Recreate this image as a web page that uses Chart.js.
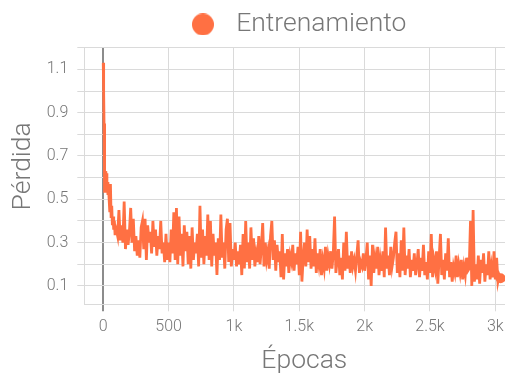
<!DOCTYPE html>
<html>
<head>
<meta charset="utf-8">
<script src="https://cdn.jsdelivr.net/npm/chart.js@4/dist/chart.umd.min.js"></script>
<style>
  html, body { margin: 0; padding: 0; background: #ffffff; overflow: hidden; }
  #wrap { width: 505px; height: 377px; overflow: hidden; }
</style>
</head>
<body>
<div id="wrap"><canvas id="chart" width="505" height="377"></canvas></div>
<script>
// Training loss per epoch
const seriesLabel = 'Entrenamiento';
const xTitle = 'Épocas';
const yTitle = 'Pérdida';

// First epochs, sampled finely (steep drop)
const warmupEpochs = [0, 2, 4, 6, 8, 10, 13, 16, 20, 24, 28, 32, 36, 40, 45, 50, 55, 60, 65, 70, 75, 80, 85, 90, 95];
const warmupLoss   = [1.13, 1.12, 1.0, 0.85, 0.70, 0.60, 0.53, 0.63, 0.54, 0.62, 0.53, 0.58, 0.52, 0.56, 0.50, 0.44, 0.57, 0.42, 0.47, 0.38, 0.42, 0.36, 0.40, 0.34, 0.37];

// From epoch 100 on, one value every 10 epochs
const stepStart = 100;
const stepSize = 10;
const loss100to1000 = [
  0.36, 0.33, 0.45, 0.31, 0.38, 0.30, 0.49, 0.27, 0.36, 0.29,
  0.35, 0.46, 0.30, 0.41, 0.26, 0.33, 0.24, 0.31, 0.23, 0.37,
  0.40, 0.27, 0.41, 0.22, 0.38, 0.30, 0.35, 0.25, 0.40, 0.28,
  0.36, 0.24, 0.33, 0.27, 0.40, 0.25, 0.30, 0.21, 0.34, 0.22,
  0.30, 0.21, 0.36, 0.25, 0.44, 0.22, 0.46, 0.20, 0.42, 0.24,
  0.34, 0.19, 0.38, 0.26, 0.35, 0.20, 0.33, 0.18, 0.37, 0.22,
  0.30, 0.25, 0.34, 0.19, 0.47, 0.23, 0.36, 0.20, 0.33, 0.24,
  0.43, 0.22, 0.40, 0.19, 0.34, 0.24, 0.30, 0.15, 0.32, 0.22,
  0.43, 0.23, 0.30, 0.18, 0.36, 0.41, 0.21, 0.39, 0.19, 0.27
];
const loss1000to2000 = [
  0.22, 0.30, 0.19, 0.26, 0.20, 0.29, 0.15, 0.34, 0.18, 0.40,
  0.21, 0.30, 0.18, 0.37, 0.22, 0.32, 0.19, 0.25, 0.21, 0.33,
  0.20, 0.28, 0.39, 0.19, 0.30, 0.22, 0.26, 0.18, 0.33, 0.40,
  0.22, 0.31, 0.17, 0.29, 0.21, 0.26, 0.14, 0.34, 0.13, 0.25,
  0.19, 0.27, 0.16, 0.24, 0.21, 0.29, 0.17, 0.25, 0.20, 0.28,
  0.15, 0.35, 0.12, 0.23, 0.30, 0.19, 0.36, 0.21, 0.33, 0.18,
  0.27, 0.19, 0.32, 0.16, 0.25, 0.20, 0.27, 0.15, 0.22, 0.18,
  0.28, 0.17, 0.24, 0.20, 0.26, 0.18, 0.25, 0.42, 0.16, 0.22,
  0.27, 0.15, 0.23, 0.13, 0.30, 0.17, 0.35, 0.18, 0.24, 0.16,
  0.26, 0.19, 0.22, 0.17, 0.24, 0.31, 0.16, 0.21, 0.19, 0.25
];
const loss2000to3040 = [
  0.17, 0.22, 0.30, 0.13, 0.24, 0.10, 0.29, 0.16, 0.23, 0.18,
  0.28, 0.15, 0.22, 0.17, 0.26, 0.14, 0.37, 0.18, 0.24, 0.15,
  0.28, 0.19, 0.23, 0.30, 0.35, 0.16, 0.25, 0.14, 0.31, 0.17,
  0.37, 0.15, 0.24, 0.18, 0.27, 0.14, 0.22, 0.17, 0.25, 0.15,
  0.20, 0.27, 0.14, 0.23, 0.17, 0.29, 0.15, 0.21, 0.13, 0.26,
  0.16, 0.34, 0.14, 0.22, 0.18, 0.26, 0.11, 0.23, 0.34, 0.15,
  0.22, 0.13, 0.25, 0.17, 0.32, 0.14, 0.21, 0.12, 0.19, 0.16,
  0.24, 0.14, 0.20, 0.16, 0.22, 0.13, 0.19, 0.15, 0.23, 0.17,
  0.18, 0.40, 0.10, 0.45, 0.12, 0.20, 0.13, 0.24, 0.11, 0.22,
  0.16, 0.25, 0.12, 0.20, 0.15, 0.26, 0.13, 0.19, 0.14, 0.26,
  0.13, 0.23, 0.12, 0.15, 0.135
];

const xTicks = [0, 500, 1000, 1500, 2000, 2500, 3000];
const yLabelled = [0.1, 0.3, 0.5, 0.7, 0.9, 1.1];

const lineColor = '#FF7043';
const textColor = '#777777';
const gridColor = '#dadada';
const zeroColor = '#8c8c8c';

const steadyLoss = loss100to1000.concat(loss1000to2000, loss2000to3040);
const points = warmupEpochs.map((e, i) => ({ x: e, y: warmupLoss[i] }))
  .concat(steadyLoss.map((v, i) => ({ x: stepStart + i * stepSize, y: v })));
const lastIndex = points.length - 1;

// Round legend marker
const marker = document.createElement('canvas');
marker.width = 22; marker.height = 22;
const mctx = marker.getContext('2d');
mctx.fillStyle = lineColor;
mctx.beginPath();
mctx.arc(11, 11, 11, 0, Math.PI * 2);
mctx.fill();

const tickFont = { family: 'Roboto', size: 16, weight: '300' };
const titleFont = { family: 'Roboto', size: 26.5, weight: '300' };

new Chart(document.getElementById('chart'), {
  type: 'line',
  data: {
    datasets: [{
      label: seriesLabel,
      data: points,
      borderColor: lineColor,
      backgroundColor: lineColor,
      borderWidth: 2.8,
      tension: 0,
      pointRadius: ctx => ctx.dataIndex === lastIndex ? 5 : 0,
      pointHoverRadius: 0,
      pointBackgroundColor: lineColor,
      pointBorderWidth: 0
    }]
  },
  options: {
    responsive: false,
    animation: false,
    devicePixelRatio: 1,
    layout: { autoPadding: false, padding: { left: 4, right: 0, top: 0, bottom: 0 } },
    plugins: {
      legend: {
        position: 'top',
        fullSize: false,
        labels: {
          usePointStyle: true,
          pointStyle: marker,
          pointStyleWidth: 40,
          color: textColor,
          font: titleFont,
          padding: 5
        }
      },
      tooltip: { enabled: false }
    },
    scales: {
      x: {
        type: 'linear',
        min: -145,
        max: 3074,
        afterBuildTicks: s => { s.ticks = xTicks.map(v => ({ value: v })); },
        afterFit: s => { s.height = 72.7; s.paddingLeft = 0; s.paddingRight = 0; },
        ticks: {
          color: textColor,
          font: tickFont,
          padding: 6,
          maxRotation: 0,
          callback: v => v >= 1000 ? (v / 1000) + 'k' : String(v)
        },
        grid: {
          color: c => c.tick && c.tick.value === 0 ? zeroColor : gridColor,
          lineWidth: c => c.tick && c.tick.value === 0 ? 2 : 1,
          tickLength: 7
        },
        border: { color: gridColor },
        title: { display: true, text: '   ' + xTitle, color: textColor, font: titleFont, padding: { top: 2, bottom: 0 } }
      },
      y: {
        min: 0.015,
        max: 1.2,
        afterBuildTicks: s => {
          const t = [];
          for (let k = 1; k <= 12; k++) t.push({ value: k / 10 });
          s.ticks = t;
        },
        afterFit: s => { s.width = 80.3; s.paddingTop = 47.7; s.paddingBottom = 0; },
        ticks: {
          color: textColor,
          font: tickFont,
          padding: 9,
          callback: v => yLabelled.some(l => Math.abs(l - v) < 1e-6) ? v.toFixed(1) : ''
        },
        grid: { color: gridColor, lineWidth: 1, tickLength: 7 },
        border: { color: gridColor },
        title: { display: true, text: '   ' + yTitle, color: textColor, font: titleFont, padding: { top: 3, bottom: 4 } }
      }
    }
  }
});
</script>
</body>
</html>
